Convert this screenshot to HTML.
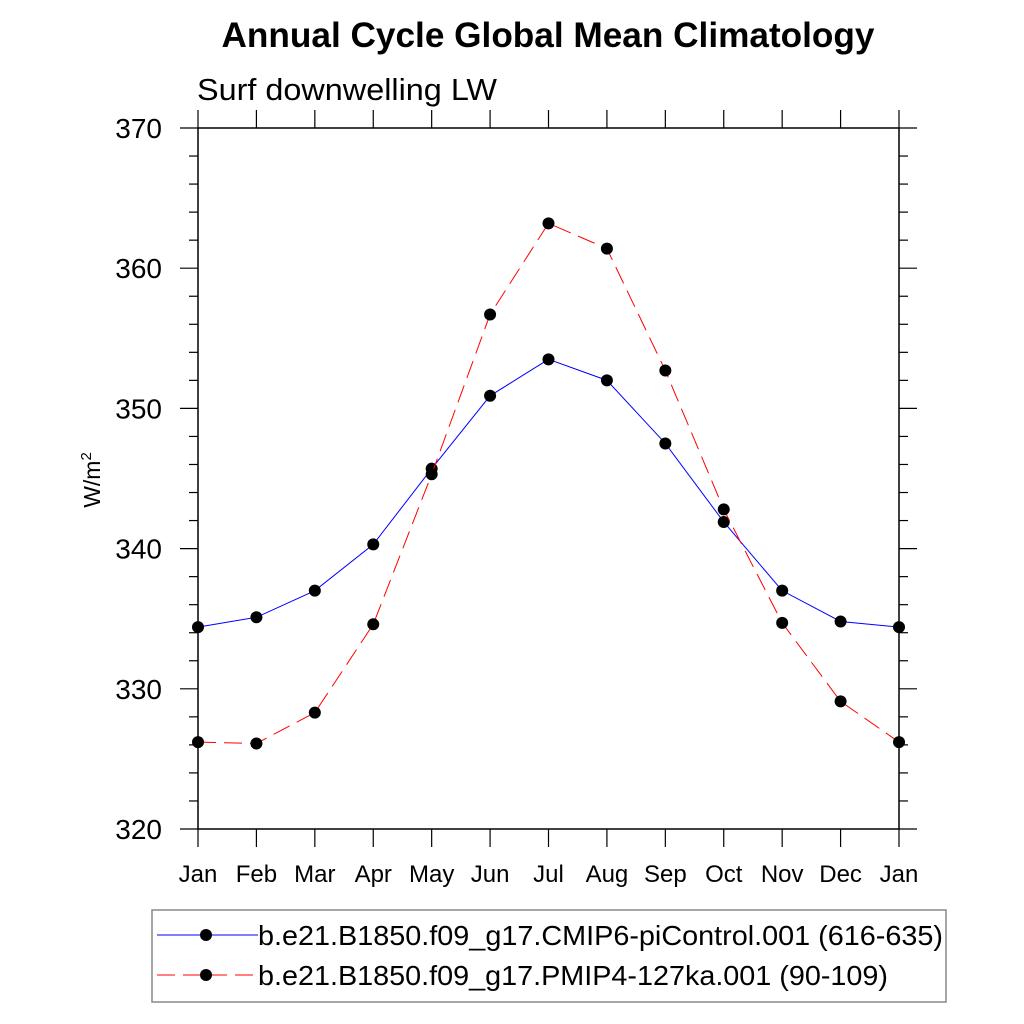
<!DOCTYPE html>
<html><head><meta charset="utf-8"><style>body{margin:0;background:#fff}svg{display:block}</style></head>
<body>
<svg id="chart" width="1024" height="1024" xmlns="http://www.w3.org/2000/svg" font-family="Liberation Sans, sans-serif">
<text x="548" y="47" text-anchor="middle" font-size="35" font-weight="bold" textLength="653" lengthAdjust="spacingAndGlyphs">Annual Cycle Global Mean Climatology</text>
<text x="197" y="100" font-size="31" textLength="300" lengthAdjust="spacingAndGlyphs">Surf downwelling LW</text>
<text transform="translate(100,480) rotate(-90)" text-anchor="middle" font-size="23">W/m<tspan dy="-9" font-size="15">2</tspan></text>
<g id="axes"></g>
<g id="series"></g>
<g>
<rect x="152" y="910" width="794" height="92" fill="none" stroke="#888" stroke-width="1.5"/>
<line x1="157" y1="935" x2="258" y2="935" stroke="#0000ff" stroke-width="1"/>
<circle cx="206" cy="935" r="6" fill="#000"/>
<text x="258" y="945" font-size="28" textLength="685" lengthAdjust="spacingAndGlyphs">b.e21.B1850.f09_g17.CMIP6-piControl.001 (616-635)</text>
<line x1="157" y1="975" x2="258" y2="975" stroke="#ff0000" stroke-width="1" stroke-dasharray="18,8"/>
<circle cx="206" cy="975" r="6" fill="#000"/>
<text x="258" y="985" font-size="28" textLength="630" lengthAdjust="spacingAndGlyphs">b.e21.B1850.f09_g17.PMIP4-127ka.001 (90-109)</text>
</g>
</svg>
<script>
const months = ["Jan","Feb","Mar","Apr","May","Jun","Jul","Aug","Sep","Oct","Nov","Dec","Jan"];
const piControl = [334.4,335.1,337.0,340.3,345.7,350.9,353.5,352.0,347.5,341.9,337.0,334.8,334.4];
const ka127 = [326.2,326.1,328.3,334.6,345.3,356.7,363.2,361.4,352.7,342.8,334.7,329.1,326.2];
const yTicks = [320,330,340,350,360,370];
const NS="http://www.w3.org/2000/svg";
const L=198,R=899,T=128,B=829,yMin=320,yMax=370;
const xs=i=>L+(R-L)*i/(months.length-1);
const ys=v=>B-(B-T)*(v-yMin)/(yMax-yMin);
function mk(tag,attrs,parent){const e=document.createElementNS(NS,tag);for(const k in attrs)e.setAttribute(k,attrs[k]);parent.appendChild(e);return e;}
const ax=document.getElementById('axes');
const frame=mk('rect',{x:L,y:T,width:R-L,height:B-T,fill:'none',stroke:'#000','stroke-width':1.5},ax);


months.forEach((m,i)=>{
  const x=xs(i);
  mk('line',{x1:x,y1:B,x2:x,y2:B+18,stroke:'#000','stroke-width':1.2},ax);
  mk('line',{x1:x,y1:T,x2:x,y2:T-18,stroke:'#000','stroke-width':1.2},ax);
  const t=mk('text',{x:x,y:B+53,'text-anchor':'middle','font-size':24},ax);
  t.textContent=m;
  
  
});
for(let v=yMin;v<=yMax;v+=2){
  const y=ys(v);const major=(v%10===0);const len=major?18:9;
  mk('line',{x1:L,y1:y,x2:L-len,y2:y,stroke:'#000','stroke-width':1.2},ax);
  mk('line',{x1:R,y1:y,x2:R+len,y2:y,stroke:'#000','stroke-width':1.2},ax);
}
yTicks.forEach(v=>{
  const t=mk('text',{x:162,y:ys(v)+10,'text-anchor':'end','font-size':28},ax);
  t.textContent=v;
  
  
});
const sg=document.getElementById('series');
function drawSeries(vals,color,dash,name){
  const g=mk('g',{},sg);
  
  
  const pl=mk('polyline',{points:vals.map((v,i)=>xs(i)+','+ys(v)).join(' '),fill:'none',stroke:color,'stroke-width':1,'stroke-dasharray':dash},g);
  
  
  vals.forEach((v,i)=>{
    const c=mk('circle',{cx:xs(i),cy:ys(v),r:6,fill:'#000'},g);
    
    
  });
}
drawSeries(piControl,'#0000ff','none','picontrol-series');
drawSeries(ka127,'#ff0000','18,8','ka127-series');
</script>
</body></html>
